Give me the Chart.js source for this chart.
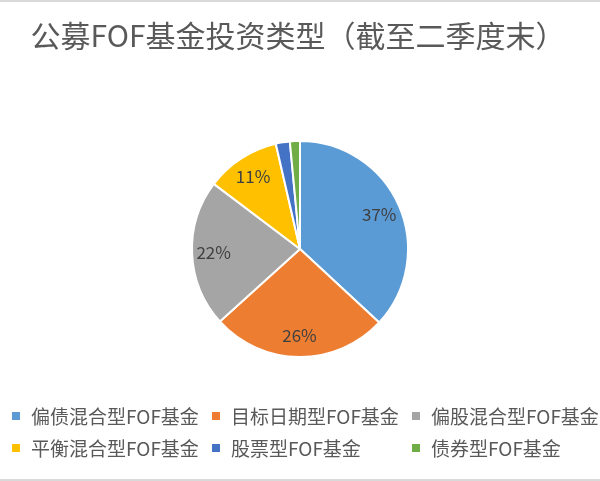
<!DOCTYPE html>
<html>
<head>
<meta charset="utf-8">
<script src="https://cdn.jsdelivr.net/npm/chart.js@4"></script>
<style>
    body { margin: 0; width: 600px; height: 481px; overflow: hidden; background: #fff; font-family: "Noto Sans CJK SC", "Noto Sans", sans-serif; }
    #box { position: relative; width: 600px; height: 477px; border-top: 2px solid #d9d9d9; border-bottom: 2px solid #d9d9d9; }
    #title { position: absolute; left: 0; top: 12px; width: 596px; height: 40px; line-height: 40px; text-align: center; font-size: 30px; color: #595959; }
    #chartWrap { position: absolute; left: 0; top: 0; width: 600px; height: 477px; }
    #legend { position: absolute; left: 0; top: 398px; width: 600px; }
    .item { position: absolute; width: 200px; height: 32px; line-height: 32px; font-size: 19px; color: #595959; white-space: nowrap; }
    .item span.box { position: absolute; left: 12px; top: 12px; width: 8px; height: 8px; }
    .item span.txt { position: absolute; left: 31px; top: 0; }
</style>
</head>
<body>
<div id="box">
    <div id="chartWrap"><canvas id="pieChart"></canvas></div>
    <div id="title">公募FOF基金投资类型（截至二季度末）</div>
    <div id="legend"></div>
</div>
<script>
const categories = ["偏债混合型FOF基金", "目标日期型FOF基金", "偏股混合型FOF基金", "平衡混合型FOF基金", "股票型FOF基金", "债券型FOF基金"];
const shares = [36.9, 26.4, 22.0, 11.1, 2.1, 1.5];
const colors = ["#5b9bd5", "#ed7d31", "#a5a5a5", "#ffc000", "#4472c4", "#70ad47"];

// percent labels on the bigger slices
const sliceLabels = {
    id: "sliceLabels",
    afterDatasetsDraw(chart) {
        const ctx = chart.ctx;
        const meta = chart.getDatasetMeta(0);
        const total = shares.reduce((a, b) => a + b, 0);
        ctx.save();
        ctx.font = "17px 'Noto Sans CJK SC', 'Noto Sans', sans-serif";
        ctx.fillStyle = "#404040";
        ctx.textAlign = "center";
        ctx.textBaseline = "middle";
        meta.data.forEach((arc, i) => {
            const pct = shares[i] / total * 100;
            if (pct < 5) return;
            const p = arc.getProps(["x", "y", "startAngle", "endAngle", "outerRadius"], true);
            const mid = (p.startAngle + p.endAngle) / 2;
            const r = p.outerRadius * 0.8;
            ctx.fillText(Math.round(pct) + "%", p.x + Math.cos(mid) * r, p.y + Math.sin(mid) * r);
        });
        ctx.restore();
    }
};

const legend = document.getElementById("legend");
categories.forEach((name, i) => {
    const div = document.createElement("div");
    div.className = "item";
    div.style.left = (i % 3) * 200 + "px";
    div.style.top = Math.floor(i / 3) * 32 + "px";
    div.innerHTML = `<span class="box" style="background:${colors[i]}"></span><span class="txt">${name}</span>`;
    legend.appendChild(div);
});

new Chart(document.getElementById("pieChart"), {
    type: "pie",
    data: {
        labels: categories,
        datasets: [{
            data: shares,
            backgroundColor: colors,
            borderColor: "#ffffff",
            borderWidth: 2
        }]
    },
    options: {
        responsive: true,
        maintainAspectRatio: false,
        animation: false,
        layout: { padding: { top: 138, bottom: 121, left: 0, right: 0 } },
        plugins: {
            legend: { display: false },
            tooltip: { enabled: false }
        }
    },
    plugins: [sliceLabels]
});
</script>
</body>
</html>
